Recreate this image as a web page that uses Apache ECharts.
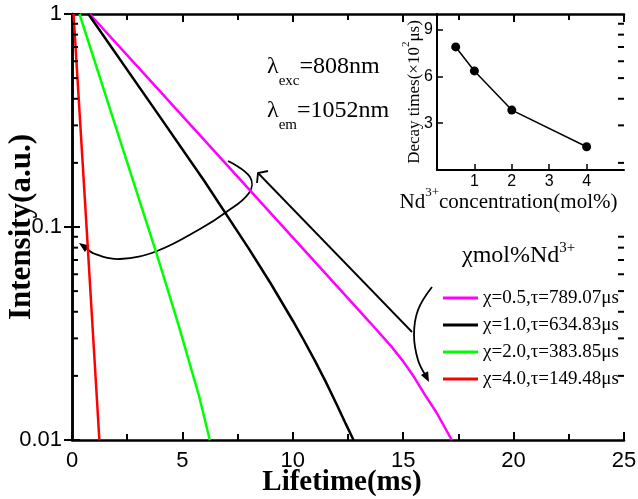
<!DOCTYPE html>
<html>
<head>
<meta charset="utf-8">
<script src="https://cdn.jsdelivr.net/npm/echarts@6/dist/echarts.min.js"></script>
<style>
  html, body { margin: 0; padding: 0; background: #fff; }
  #main { width: 638px; height: 499px; }
</style>
</head>
<body>
<div id="main"></div>
<script>
// decay curves (time in ms, normalized intensity)
const magentaT = [0.8, 4, 8, 12, 13.5, 14.5, 15, 15.5, 16, 16.5, 17.2];
const magentaI = [1, 0.432, 0.151, 0.0528, 0.0356, 0.0272, 0.0234, 0.0197, 0.0162, 0.0135, 0.01];
const blackT = [0.74, 4, 6, 8, 9, 10, 10.5, 11, 11.5, 12, 12.4, 12.75];
const blackI = [1, 0.327, 0.164, 0.0794, 0.0543, 0.0363, 0.0294, 0.0236, 0.0187, 0.0146, 0.0119, 0.01];
const greenT = [0.34, 2, 3.8, 4.3, 4.85, 5.3, 5.76, 6.24];
const greenI = [1, 0.291, 0.0766, 0.0522, 0.034, 0.0234, 0.016, 0.01];
const redT = [0.07, 0.64, 1.24];
const redI = [1, 0.108, 0.01];

const seriesNames = ["χ=0.5,τ=789.07μs", "χ=1.0,τ=634.83μs", "χ=2.0,τ=383.85μs", "χ=4.0,τ=149.48μs"];
const seriesColors = ["#ff00ff", "#000000", "#00ff00", "#ff0000"];

// inset: decay time vs Nd concentration
const concentration = [0.5, 1, 2, 4];
const decayTime = [7.89, 6.35, 3.84, 1.49];

// log axis minor ticks
const minorTickVals = [0.02, 0.03, 0.04, 0.05, 0.06, 0.07, 0.08, 0.09, 0.2, 0.3, 0.4, 0.5, 0.6, 0.7, 0.8, 0.9];

const zip = (xs, ys) => xs.map((x, i) => [x, ys[i]]);
const curves = [zip(magentaT, magentaI), zip(blackT, blackI), zip(greenT, greenI), zip(redT, redI)];

const SERIF = "Liberation Serif";
const SANS = "Liberation Sans";

const chart = echarts.init(document.getElementById("main"));

const option = {
  animation: false,
  backgroundColor: "#fff",
  grid: [
    { left: 72, top: 14, right: 14, bottom: 59, outerBoundsMode: "none", containLabel: false },
    { left: 437, top: 14, right: 14, bottom: 329, outerBoundsMode: "none", containLabel: false }
  ],
  legend: {
    data: seriesNames.map(n => ({ name: n, icon: "rect" })),
    orient: "vertical",
    left: 438,
    top: 283,
    itemWidth: 35,
    itemHeight: 3,
    itemGap: 7,
    textStyle: { fontFamily: SERIF, fontSize: 19, color: "#000", lineHeight: 20 }
  },
  xAxis: [
    {
      type: "value", gridIndex: 0, min: 0, max: 25, interval: 5,
      name: "Lifetime(ms)", nameLocation: "middle", nameGap: 28, nameMoveOverlap: false,
      nameTextStyle: { fontFamily: SERIF, fontWeight: "bold", fontSize: 29, color: "#000", padding: [0, 12, 0, 0] },
      axisLine: { lineStyle: { color: "#000", width: 2.5 } },
      axisTick: { inside: true, length: 8, lineStyle: { width: 2 } },
      minorTick: { show: true, splitNumber: 2, length: 6, lineStyle: { color: "#000", width: 2 } },
      axisLabel: { fontFamily: SANS, fontSize: 22, color: "#000", margin: 10 },
      splitLine: { show: false }
    },
    {
      type: "value", gridIndex: 0, position: "top", min: 0, max: 25, interval: 5,
      axisLine: { lineStyle: { color: "#000", width: 2.5 } },
      axisTick: { inside: true, length: 8, lineStyle: { width: 2 } },
      minorTick: { show: true, splitNumber: 2, length: 6, lineStyle: { color: "#000", width: 2 } },
      axisLabel: { show: false },
      splitLine: { show: false }
    },
    {
      type: "value", gridIndex: 1, min: 0, max: 5, interval: 1,
      name: "{l|Nd}{s|3+}{l|concentration(mol%)}", nameLocation: "middle", nameGap: 16, nameMoveOverlap: false,
      nameTextStyle: {
        color: "#000",
        padding: [0, 44, 0, 0],
        rich: {
          l: { fontFamily: SERIF, fontSize: 21, lineHeight: 27, verticalAlign: "bottom", color: "#000" },
          s: { fontFamily: SERIF, fontSize: 13, lineHeight: 13, verticalAlign: "top", color: "#000" }
        }
      },
      axisLine: { lineStyle: { color: "#000", width: 2 } },
      axisTick: { inside: true, length: 6, lineStyle: { width: 1.5 } },
      axisLabel: { fontFamily: SANS, fontSize: 16, color: "#000", margin: 4, showMinLabel: false, showMaxLabel: false },
      splitLine: { show: false }
    }
  ],
  yAxis: [
    {
      type: "log", logBase: 10, gridIndex: 0, min: 0.01, max: 1,
      name: "Intensity(a.u.)", nameLocation: "middle", nameGap: 35, nameMoveOverlap: false,
      nameTextStyle: { fontFamily: SERIF, fontWeight: "bold", fontSize: 31, color: "#000" },
      axisLine: { lineStyle: { color: "#000", width: 2.5 } },
      axisTick: { inside: true, length: 8, lineStyle: { width: 2 } },
      axisLabel: { fontFamily: SANS, fontSize: 22, color: "#000", margin: 10 },
      splitLine: { show: false }
    },
    {
      type: "log", logBase: 10, gridIndex: 0, position: "right", min: 0.01, max: 1,
      axisLine: { show: true, lineStyle: { color: "#000", width: 2.5 } },
      axisTick: { inside: true, length: 8, lineStyle: { width: 2 } },
      axisLabel: { show: false },
      splitLine: { show: false }
    },
    {
      type: "value", gridIndex: 1, min: 0, max: 10, interval: 3,
      name: "{l|Decay times(×10}{s|2}{l|μs)}", nameLocation: "middle", nameGap: 14, nameMoveOverlap: false,
      nameTextStyle: {
        color: "#000",
        rich: {
          l: { fontFamily: SERIF, fontSize: 17, lineHeight: 22, verticalAlign: "bottom", color: "#000" },
          s: { fontFamily: SERIF, fontSize: 11, lineHeight: 11, verticalAlign: "top", color: "#000" }
        }
      },
      axisLine: { show: true, lineStyle: { color: "#000", width: 2 } },
      axisTick: { inside: true, length: 6, lineStyle: { width: 1.5 } },
      axisLabel: { fontFamily: SANS, fontSize: 16, color: "#000", margin: 4, showMinLabel: false, showMaxLabel: false },
      splitLine: { show: false }
    }
  ],
  series: [
    ...curves.map((data, i) => ({
      name: seriesNames[i],
      type: "line",
      xAxisIndex: 0,
      yAxisIndex: 0,
      data: data,
      symbol: "none",
      lineStyle: { color: seriesColors[i], width: 2.5 },
      itemStyle: { color: seriesColors[i] },
      z: 3
    })),
    {
      type: "custom",
      xAxisIndex: 0,
      yAxisIndex: 0,
      silent: true,
      z: 5,
      data: minorTickVals.map(v => [0, v]),
      renderItem: (params, api) => {
        const p = api.coord([0, api.value(1)]);
        const q = api.coord([25, api.value(1)]);
        return {
          type: "group",
          children: [
            { type: "line", shape: { x1: p[0], y1: p[1], x2: p[0] + 6, y2: p[1] }, style: { stroke: "#000", lineWidth: 2 } },
            { type: "line", shape: { x1: q[0] - 6, y1: q[1], x2: q[0], y2: q[1] }, style: { stroke: "#000", lineWidth: 2 } }
          ]
        };
      }
    },
    {
      type: "line",
      xAxisIndex: 2,
      yAxisIndex: 2,
      data: zip(concentration, decayTime),
      symbol: "circle",
      symbolSize: 9,
      lineStyle: { color: "#000", width: 1.5 },
      itemStyle: { color: "#000" }
    }
  ],
  graphic: [
    {
      type: "text", left: 267, top: 55,
      style: {
        text: "{l|λ}{s|exc}{l|=808nm}",
        rich: {
          l: { fontFamily: SERIF, fontSize: 24, lineHeight: 34, verticalAlign: "top", fill: "#000" },
          s: { fontFamily: SERIF, fontSize: 15, lineHeight: 15, verticalAlign: "bottom", fill: "#000" }
        }
      }
    },
    {
      type: "text", left: 267, top: 99,
      style: {
        text: "{l|λ}{s|em}{l|=1052nm}",
        rich: {
          l: { fontFamily: SERIF, fontSize: 24, lineHeight: 34, verticalAlign: "top", fill: "#000" },
          s: { fontFamily: SERIF, fontSize: 15, lineHeight: 15, verticalAlign: "bottom", fill: "#000" }
        }
      }
    },
    {
      type: "text", left: 462, top: 241,
      style: {
        text: "{l|χmol%Nd}{s|3+}",
        rich: {
          l: { fontFamily: SERIF, fontSize: 24, lineHeight: 27, verticalAlign: "bottom", fill: "#000" },
          s: { fontFamily: SERIF, fontSize: 15, lineHeight: 15, verticalAlign: "top", fill: "#000" }
        }
      }
    },
    // straight arrow
    {
      type: "line", shape: { x1: 412, y1: 332, x2: 258, y2: 173 },
      style: { stroke: "#000", lineWidth: 1.8 }
    },
    {
      type: "polyline", shape: { points: [[268, 171], [258, 173], [257, 183]] },
      style: { stroke: "#000", lineWidth: 1.8, fill: null }
    },
    // curved arrow to the left
    {
      type: "polyline", shape: {
        points: [[228, 161], [250, 177], [249, 193], [225, 213], [200, 229], [157, 251], [120, 259], [95, 254], [84, 246]],
        smooth: 0.4
      },
      style: { stroke: "#000", lineWidth: 1.8, fill: null }
    },
    {
      type: "polygon", shape: { points: [[79, 243], [89.5, 245.4], [84.9, 252]] },
      style: { fill: "#000" }
    },
    // curved arrow near the legend
    {
      type: "polyline", shape: {
        points: [[432, 287], [418, 310], [414, 335], [418, 360], [426, 376]],
        smooth: 0.4
      },
      style: { stroke: "#000", lineWidth: 1.8, fill: null }
    },
    {
      type: "polygon", shape: { points: [[429, 382], [428.1, 371.3], [420.9, 374.9]] },
      style: { fill: "#000" }
    }
  ]
};

chart.setOption(option);
</script>
</body>
</html>
